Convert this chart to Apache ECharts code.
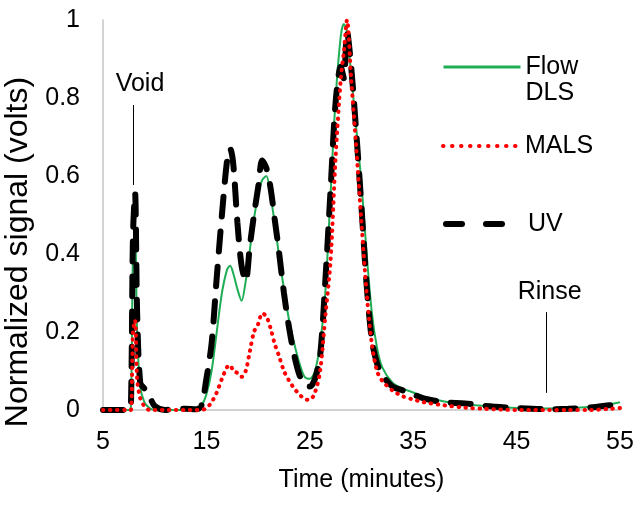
<!DOCTYPE html>
<html>
<head>
<meta charset="utf-8">
<script src="https://cdn.jsdelivr.net/npm/echarts@6/dist/echarts.min.js"></script>
<style>html,body{margin:0;padding:0;background:#fff}#c{width:641px;height:505px}</style>
</head>
<body>
<div id="c"></div>
<script>
// ---- data ----
const timeMin = [5, 7.5, 7.7, 7.9, 8.1, 8.3, 8.6, 9.0, 9.5, 10, 11, 12, 13, 14, 14.5, 15, 15.5, 16, 16.5, 17, 17.3, 17.6, 18, 18.4, 18.8, 19.2, 19.6, 20, 20.4, 20.8, 21.2, 21.6, 22, 22.5, 23, 23.5, 24, 24.5, 25, 25.5, 26, 26.5, 27, 27.5, 28, 28.3, 28.6, 29, 29.5, 30, 30.5, 31, 31.5, 32, 33, 34, 35, 36, 38, 40, 42, 45, 48, 50, 52, 54, 55];
const flowDLS = [0, 0, 0.01, 0.40, 0.45, 0.20, 0.06, 0.02, 0.005, 0, 0, 0, 0, 0.002, 0.01, 0.04, 0.10, 0.20, 0.30, 0.36, 0.37, 0.35, 0.31, 0.28, 0.33, 0.41, 0.49, 0.55, 0.59, 0.60, 0.55, 0.48, 0.40, 0.31, 0.23, 0.17, 0.12, 0.085, 0.08, 0.10, 0.17, 0.30, 0.55, 0.80, 0.96, 0.99, 0.97, 0.86, 0.72, 0.58, 0.40, 0.25, 0.16, 0.11, 0.07, 0.055, 0.045, 0.035, 0.022, 0.015, 0.01, 0.005, 0.004, 0.005, 0.008, 0.015, 0.02];
const mals = [0, 0, 0, 0.20, 0.23, 0.08, 0.03, 0.01, 0, 0, 0, 0, 0, 0, 0, 0.005, 0.02, 0.045, 0.08, 0.11, 0.115, 0.10, 0.095, 0.085, 0.10, 0.15, 0.20, 0.22, 0.248, 0.24, 0.21, 0.17, 0.14, 0.10, 0.075, 0.055, 0.04, 0.028, 0.026, 0.045, 0.10, 0.24, 0.38, 0.65, 0.85, 0.92, 1.0, 0.85, 0.67, 0.48, 0.30, 0.17, 0.10, 0.075, 0.05, 0.035, 0.027, 0.02, 0.012, 0.006, 0.003, 0, 0, 0, 0, 0.003, 0.005];
const uv = [0, 0, 0.01, 0.45, 0.556, 0.25, 0.07, 0.055, 0.035, 0.01, 0, 0.003, 0.003, 0.002, 0.01, 0.08, 0.17, 0.34, 0.50, 0.64, 0.67, 0.63, 0.48, 0.37, 0.33, 0.42, 0.50, 0.57, 0.64, 0.62, 0.57, 0.49, 0.41, 0.30, 0.21, 0.14, 0.09, 0.065, 0.06, 0.08, 0.14, 0.33, 0.56, 0.79, 0.88, 0.85, 0.97, 0.88, 0.71, 0.52, 0.32, 0.18, 0.12, 0.09, 0.06, 0.05, 0.04, 0.03, 0.02, 0.017, 0.01, 0.005, 0.002, 0.003, 0.006, 0.012, 0.015];
const seriesNames = ['Flow DLS', 'MALS', 'UV'];
const xTicks = { min: 5, max: 55, interval: 10 };
const yTicks = { min: 0, max: 1, interval: 0.2 };
const voidMark = { label: 'Void', x: 7.9, y0: 0.577, y1: 0.782 };
const rinseMark = { label: 'Rinse', x: 47.9, y0: 0.044, y1: 0.251 };

const pair = (vals) => timeMin.map((t, i) => [t, vals[i]]);
const FONT = 'Liberation Sans';
const txt = { fontFamily: FONT, fontSize: 25, color: '#000' };

function annot(m, off) {
  return [{ coord: [m.x, m.y0] }, { coord: [m.x, m.y1], label: { formatter: m.label, offset: off } }];
}

const chart = echarts.init(document.getElementById('c'), null, { renderer: 'canvas' });
chart.setOption({
  animation: false,
  backgroundColor: '#fff',
  grid: { left: 103, right: 21, top: 20, bottom: 95, containLabel: false, outerBoundsMode: 'none' },
  xAxis: {
    type: 'value', min: xTicks.min, max: xTicks.max, interval: xTicks.interval,
    name: 'Time (minutes)', nameLocation: 'middle', nameGap: 58,
    nameTextStyle: txt,
    axisLine: { show: true, lineStyle: { color: '#c4c4c4', width: 1.5 } },
    axisTick: { show: false }, splitLine: { show: false },
    axisLabel: Object.assign({ margin: 20 }, txt)
  },
  yAxis: {
    type: 'value', min: yTicks.min, max: yTicks.max, interval: yTicks.interval,
    name: 'Normalized signal (volts)', nameLocation: 'middle', nameGap: 63,
    nameTextStyle: Object.assign({}, txt, { fontSize: 32, padding: [0, 74, 0, 0] }),
    axisLine: { show: true, lineStyle: { color: '#c4c4c4', width: 1.5 } },
    axisTick: { show: false }, splitLine: { show: false },
    axisLabel: Object.assign({ margin: 23 }, txt)
  },
  legend: [
    { data: [seriesNames[0]], orient: 'vertical', left: 442, top: 28, padding: 0,
      itemWidth: 77, itemHeight: 14, selectedMode: false,
      formatter: () => ' \nFlow\nDLS',
      textStyle: Object.assign({ lineHeight: 26 }, txt),
      itemStyle: { opacity: 0 },
      lineStyle: { width: 3 } },
    { data: [seriesNames[1]], orient: 'vertical', left: 441, top: 133, padding: 0,
      itemWidth: 77, itemHeight: 14, selectedMode: false,
      textStyle: Object.assign({ lineHeight: 26 }, txt),
      itemStyle: { opacity: 0 },
      lineStyle: { width: 4, type: [0.5, 8.5] } },
    { data: [seriesNames[2]], orient: 'vertical', left: 443, top: 211, padding: 0,
      itemWidth: 77, itemHeight: 14, selectedMode: false,
      textStyle: Object.assign({ lineHeight: 26 }, txt),
      itemStyle: { opacity: 0 },
      lineStyle: { width: 6, type: [16, 24] } }
  ],
  series: [
    { name: seriesNames[0], type: 'line', data: pair(flowDLS), symbol: 'none', smooth: 0.3,
      lineStyle: { color: '#1fae55', width: 2 }, itemStyle: { color: '#1fae55' }, z: 2 },
    { name: seriesNames[2], type: 'line', data: pair(uv), symbol: 'none', smooth: 0.3,
      lineStyle: { color: '#000', width: 6, type: [20, 15], cap: 'round' }, itemStyle: { color: '#000' }, z: 3,
      markLine: {
        silent: true, symbol: 'none', animation: false,
        lineStyle: { color: '#000', width: 1, type: 'solid' },
        label: Object.assign({ position: 'end', distance: 8 }, txt),
        data: [annot(voidMark, [7, 0]), annot(rinseMark, [3, 0])]
      } },
    { name: seriesNames[1], type: 'line', data: pair(mals), symbol: 'none', smooth: 0.3,
      lineStyle: { color: '#ff0000', width: 4, type: [0.5, 6.5], cap: 'round' }, itemStyle: { color: '#ff0000' }, z: 4 }
  ]
});
</script>
</body>
</html>
